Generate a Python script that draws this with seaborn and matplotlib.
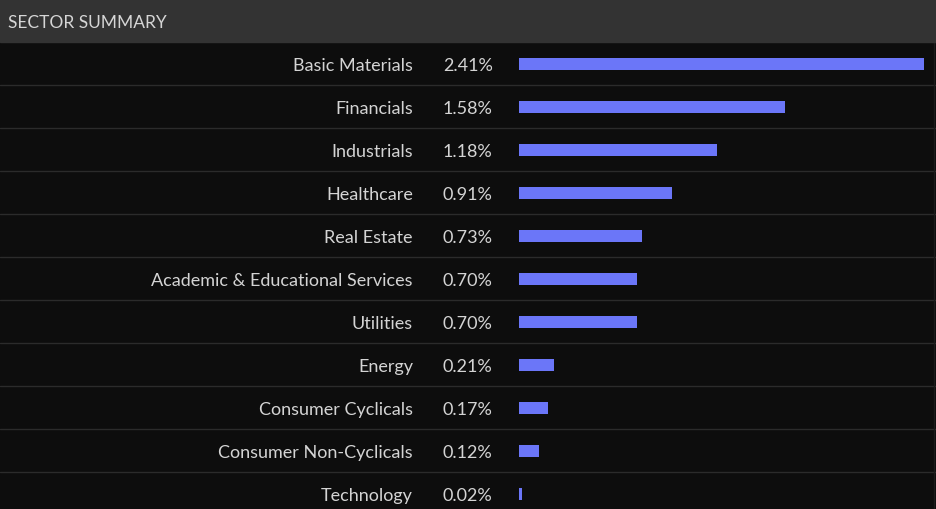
import matplotlib
matplotlib.use("Agg")
import matplotlib.pyplot as plt
import matplotlib.transforms as mtransforms
import pandas as pd
import seaborn as sns

# Sector summary data
sectors = ["Basic Materials", "Financials", "Industrials", "Healthcare", "Real Estate",
           "Academic & Educational Services", "Utilities", "Energy",
           "Consumer Cyclicals", "Consumer Non-Cyclicals", "Technology"]
changes = [2.41, 1.58, 1.18, 0.91, 0.73, 0.70, 0.70, 0.21, 0.17, 0.12, 0.02]
value_labels = ["2.41%", "1.58%", "1.18%", "0.91%", "0.73%", "0.70%",
                "0.70%", "0.21%", "0.17%", "0.12%", "0.02%"]
title = "SECTOR SUMMARY"

df = pd.DataFrame({"sector": sectors, "change": changes})

W, H = 937, 510
HEADER = 43
ROW = 43
BAR_X0 = 519
SCALE = 405 / 2.41  # px per percent

sns.set_theme(style="dark")
plt.rcParams["font.family"] = ["Lato", "DejaVu Sans"]

fig = plt.figure(figsize=(W / 100, H / 100), dpi=100, facecolor="#0d0d0d")
ax = fig.add_axes([0, 0, 1, (H - HEADER) / H])
ax.set_facecolor("#0d0d0d")

sns.barplot(data=df, x="change", y="sector", orient="h", color="#6b76f8",
            saturation=1, width=12 / ROW, linewidth=0, ax=ax)

xmin = -BAR_X0 / SCALE
ax.set_xlim(xmin, xmin + W / SCALE)
nrows = (H - HEADER) / ROW
ax.set_ylim(-0.5 + nrows, -0.5)
ax.set_axis_off()

# row separators
for i in range(len(sectors) - 1):
    ax.axhline(i + 0.5, color="#2b2b2b", lw=1)
ax.axvline(xmin + 934 / SCALE, color="#1c1c1c", lw=1)

# labels: x in figure pixels, y in data rows (nudged down a touch)
trans = mtransforms.blended_transform_factory(
    mtransforms.Affine2D().scale(1 / W, 1) + fig.transFigure, ax.transData)
nudge = 1.5 / ROW
for i, (name, lab) in enumerate(zip(sectors, value_labels)):
    ax.text(413, i + nudge, name, transform=trans, ha="right", va="center",
            color="#d4d4d4", fontsize=13)
    ax.text(443, i + nudge, lab, transform=trans, ha="left", va="center",
            color="#d4d4d4", fontsize=13)

# header band
fig.patches.append(plt.Rectangle((0, (H - HEADER) / H), 1, HEADER / H,
                                 transform=fig.transFigure, color="#333333", zorder=0))
fig.text(8 / W, 1 - 23 / H, title, ha="left", va="center", color="#d6d6d6", fontsize=12.5)

fig.savefig("out.png", dpi=100, facecolor=fig.get_facecolor())
